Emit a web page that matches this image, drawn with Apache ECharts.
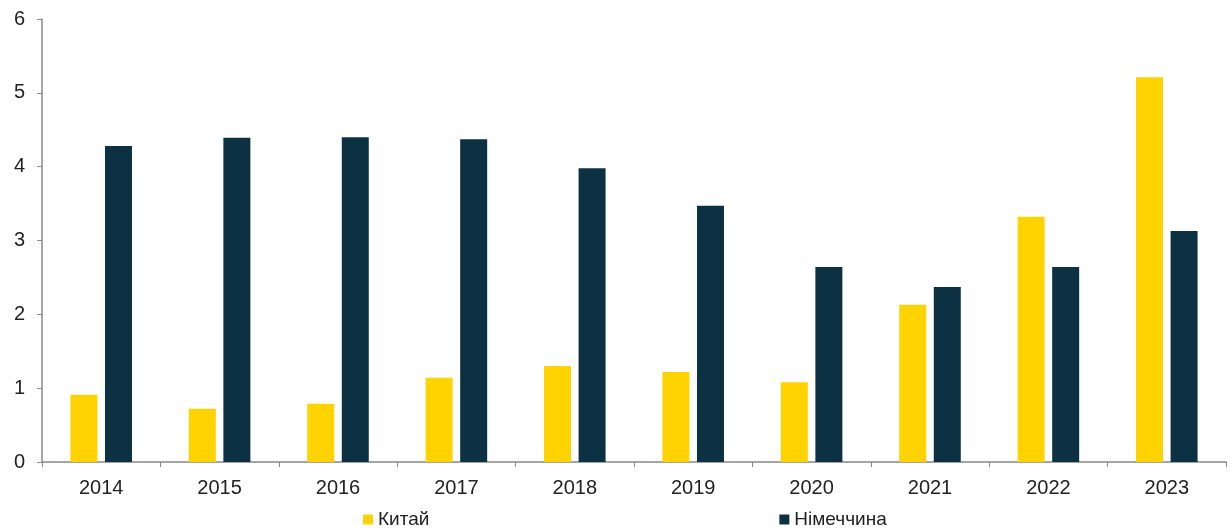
<!DOCTYPE html>
<html>
<head>
<meta charset="utf-8">
<script src="https://cdn.jsdelivr.net/npm/echarts@6/dist/echarts.min.js"></script>
<style>
  html, body { margin: 0; padding: 0; background: #fff; }
  #chart1 { width: 1232px; height: 528px; }
</style>
</head>
<body>
<div id="chart1"></div>
<script>
const years = ['2014', '2015', '2016', '2017', '2018', '2019', '2020', '2021', '2022', '2023'];
const china = [0.91, 0.72, 0.79, 1.14, 1.30, 1.22, 1.08, 2.13, 3.32, 5.21];
const germany = [4.28, 4.39, 4.40, 4.37, 3.98, 3.47, 2.64, 2.37, 2.64, 3.13];
const colors = ['#FFD300', '#0B3142'];

var myChart1 = echarts.init(document.getElementById('chart1'));
var option = {
    color: colors,
    animation: false,
    grid: { left: 42, right: 6, top: 19, bottom: 66 },
    legend: {
        top: 505,
        left: 358,
        itemWidth: 10,
        itemHeight: 10,
        itemGap: 350,
        icon: 'rect',
        textStyle: { fontSize: 19, color: '#222', fontFamily: 'Liberation Sans' },
        data: ['Китай', 'Німеччина']
    },
    xAxis: {
        type: 'category',
        data: years,
        axisLine: { lineStyle: { color: '#888', width: 1.5 } },
        axisTick: { show: true, length: 5, lineStyle: { color: '#888' } },
        axisLabel: { fontSize: 20, color: '#222', margin: 16, fontFamily: 'Liberation Sans' }
    },
    yAxis: {
        type: 'value',
        min: 0,
        max: 6,
        interval: 1,
        splitLine: { show: false },
        axisLine: { show: true, lineStyle: { color: '#888', width: 1.5 } },
        axisTick: { show: true, length: 5, lineStyle: { color: '#888' } },
        axisLabel: { fontSize: 20, color: '#222', margin: 17, fontFamily: 'Liberation Sans' }
    },
    series: [
        { name: 'Китай', type: 'bar', data: china, barWidth: 27, barGap: '28%' },
        { name: 'Німеччина', type: 'bar', data: germany, barWidth: 27, barGap: '28%' }
    ]
};
myChart1.setOption(option);
</script>
</body>
</html>
